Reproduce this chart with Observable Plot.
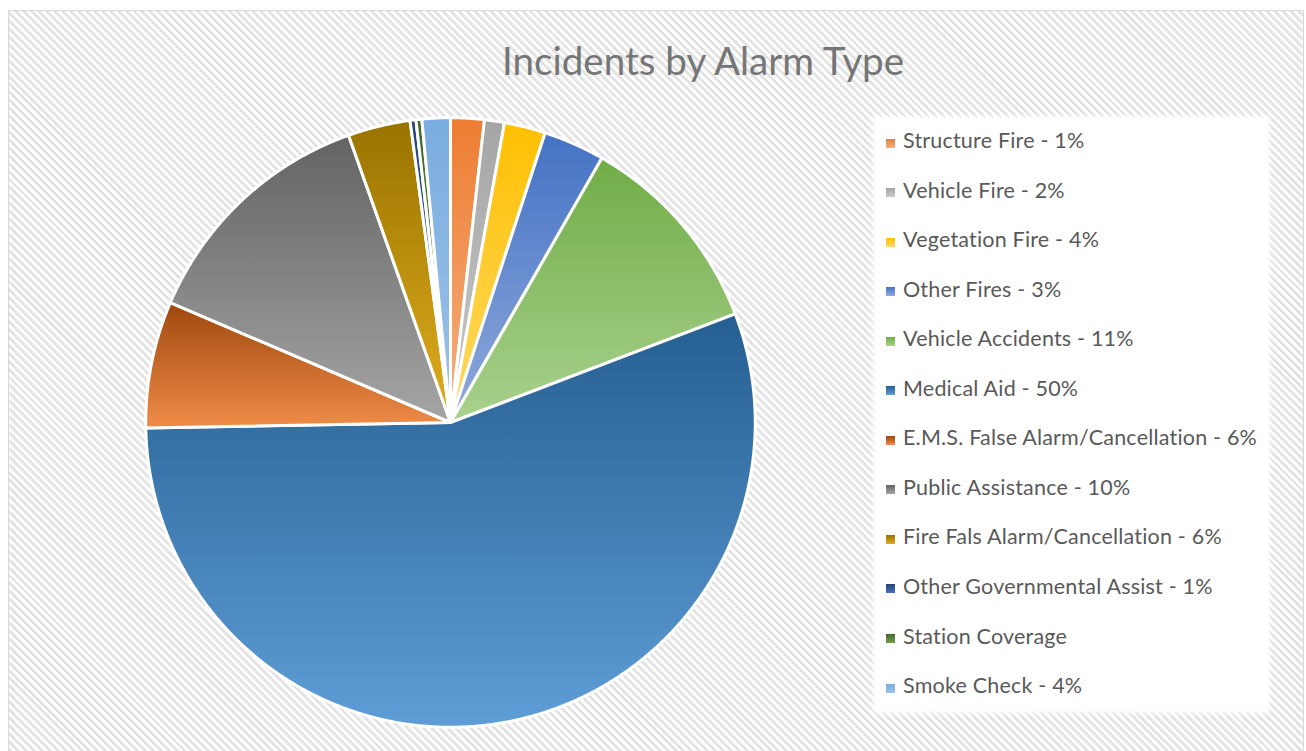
<!DOCTYPE html>
<html>
<head>
<meta charset="utf-8">
<script src="https://cdn.jsdelivr.net/npm/d3@7"></script>
<script src="https://cdn.jsdelivr.net/npm/@observablehq/plot@0.6"></script>
<style>
  html, body { margin: 0; padding: 0; background: white; overflow: hidden; }
  #page { position: relative; width: 1306px; height: 751px; overflow: hidden; background: white; }
  #frame {
    position: absolute; left: 8px; top: 10px; width: 1294px; height: 760px;
    border: 1.5px solid #d9d9d9;
    background: repeating-linear-gradient(45deg, #ffffff 0px, #ffffff 2.8px, #e3e3e3 2.8px, #e3e3e3 5.6px);
  }
  #title {
    position: absolute; left: 403px; width: 600px; top: 40.8px; text-align: center;
    font-family: Lato, "Open Sans", sans-serif; font-size: 38.6px; line-height: 38.6px;
    color: #767676; white-space: nowrap;
  }
  #chart { position: absolute; left: 129.5px; top: 101.5px; }
  #legendbox {
    position: absolute; left: 875px; top: 118px; width: 393px; height: 593px;
    background: white; box-shadow: 0 0 4px 2px rgba(255,255,255,0.9);
  }
  .item { position: absolute; left: 886px; height: 21.5px; font-family: Lato, "Open Sans", sans-serif;
    font-size: 21.5px; line-height: 21.5px; letter-spacing: 0.2px; color: #595959; white-space: nowrap; }
  .sw { position: absolute; left: 0px; top: 8.5px; width: 9px; height: 9px; }
  .lab { position: absolute; left: 17px; top: 0px; }
</style>
</head>
<body>
<div id="page">
  <div id="frame"></div>
  <div id="title">Incidents by Alarm Type</div>
  <div id="chart"></div>
  <div id="legendbox"></div>
  <div id="legend"></div>
</div>
<script>
// Data (slice sizes in percent of the pie)
const categories = [
  "Structure Fire", "Vehicle Fire", "Vegetation Fire", "Other Fires",
  "Vehicle Accidents", "Medical Aid", "E.M.S. False Alarm/Cancellation",
  "Public Assistance", "Fire Fals Alarm/Cancellation", "Other Governmental Assist",
  "Station Coverage", "Smoke Check"
];
const values = [1.78, 1.06, 2.19, 3.25, 10.92, 55.53, 6.72, 13.14, 3.31, 0.31, 0.31, 1.50];
const legendLabels = [
  "Structure Fire - 1%", "Vehicle Fire - 2%", "Vegetation Fire - 4%", "Other Fires - 3%",
  "Vehicle Accidents - 11%", "Medical Aid - 50%", "E.M.S. False Alarm/Cancellation - 6%",
  "Public Assistance - 10%", "Fire Fals Alarm/Cancellation - 6%", "Other Governmental Assist - 1%",
  "Station Coverage", "Smoke Check - 4%"
];
const topColors = ["#ED7D31", "#A5A5A5", "#FFC000", "#4472C4", "#70AD47", "#255E91",
  "#9E480E", "#636363", "#997300", "#264478", "#43682B", "#7AADE0"];
const bottomColors = ["#F4B183", "#C9C9C9", "#FFD966", "#8FAADC", "#A9D18E", "#5E9DD6",
  "#F08C48", "#A5A5A5", "#E0AE1E", "#4A72B8", "#6FA04A", "#9DC3E6"];

const data = categories.map((c, i) => ({category: c, value: values[i], i}));
const arcs = d3.pie().sort(null).value(d => d.value).startAngle(0).endAngle(2 * Math.PI)(data);

function slicePoints(a) {
  const pts = [{x: 0, y: 0}];
  const n = Math.max(2, Math.ceil((a.endAngle - a.startAngle) / 0.005));
  for (let k = 0; k <= n; k++) {
    const t = a.startAngle + (a.endAngle - a.startAngle) * k / n;
    pts.push({x: Math.sin(t), y: Math.cos(t)});
  }
  return pts;
}

const marks = arcs.map((a, i) =>
  Plot.line(slicePoints(a), {
    x: "x", y: "y", curve: "linear-closed",
    fill: `url(#grad${i})`, stroke: "white", strokeWidth: 3, strokeLinejoin: "round"
  })
);

const svg = Plot.plot({
  width: 640, height: 640,
  margin: 0,
  style: {background: "transparent"},
  x: {axis: null, domain: [-1.05, 1.05]},
  y: {axis: null, domain: [-1.05, 1.05]},
  marks
});

const ns = "http://www.w3.org/2000/svg";
const defs = document.createElementNS(ns, "defs");
topColors.forEach((c, i) => {
  const g = document.createElementNS(ns, "linearGradient");
  g.setAttribute("id", `grad${i}`);
  g.setAttribute("x1", "0"); g.setAttribute("y1", "0");
  g.setAttribute("x2", "0"); g.setAttribute("y2", "1");
  const s0 = document.createElementNS(ns, "stop");
  s0.setAttribute("offset", "0"); s0.setAttribute("stop-color", c);
  const s1 = document.createElementNS(ns, "stop");
  s1.setAttribute("offset", "1"); s1.setAttribute("stop-color", bottomColors[i]);
  g.appendChild(s0); g.appendChild(s1);
  defs.appendChild(g);
});
svg.insertBefore(defs, svg.firstChild);
document.getElementById("chart").appendChild(svg);

// Legend
const legend = document.getElementById("legend");
legendLabels.forEach((t, i) => {
  const row = document.createElement("div");
  row.className = "item";
  row.style.top = (130 + 49.55 * i) + "px";
  const sw = document.createElement("div");
  sw.className = "sw";
  sw.style.background = `linear-gradient(${topColors[i]}, ${bottomColors[i]})`;
  const lab = document.createElement("div");
  lab.className = "lab";
  lab.textContent = t;
  row.appendChild(sw); row.appendChild(lab);
  legend.appendChild(row);
});
</script>
</body>
</html>
